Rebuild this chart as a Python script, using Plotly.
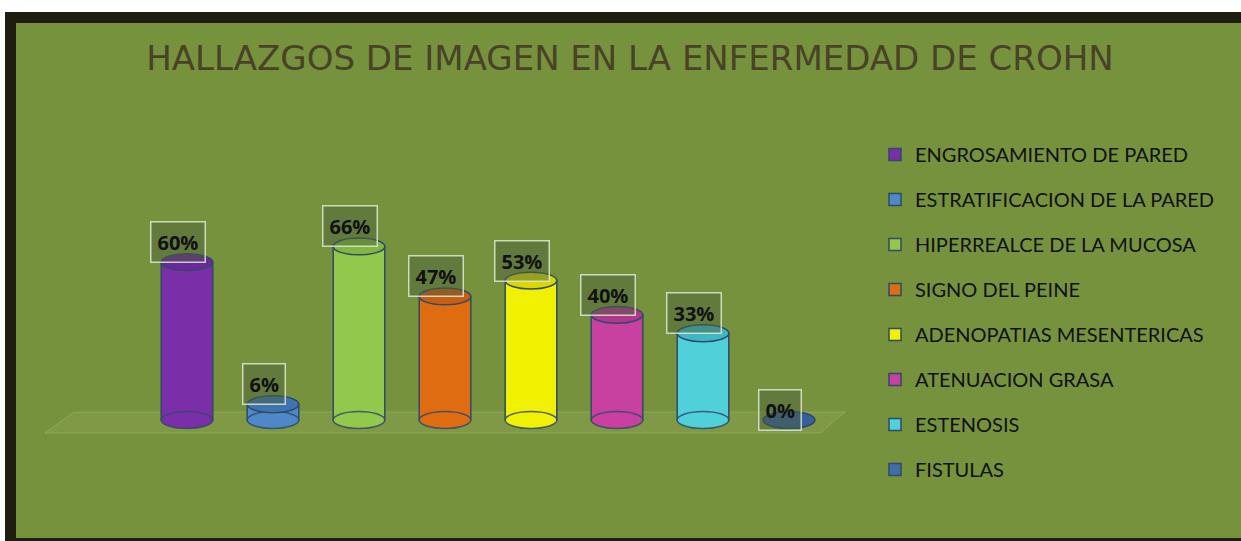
import plotly.graph_objects as go

categories = ["ENGROSAMIENTO DE PARED", "ESTRATIFICACION DE LA PARED", "HIPERREALCE DE LA MUCOSA",
              "SIGNO DEL PEINE", "ADENOPATIAS MESENTERICAS", "ATENUACION GRASA", "ESTENOSIS", "FISTULAS"]
values = [60, 6, 66, 47, 53, 40, 33, 0]
labels = ["60%", "6%", "66%", "47%", "53%", "40%", "33%", "0%"]
colors = ["#7A2FA8", "#4E88C8", "#92C84C", "#E06C12", "#F0F000", "#C840A0", "#50D0D8", "#3F6EA8"]
cap_colors = ["#6A2898", "#3F74B0", "#82B640", "#C85E10", "#D8D800", "#B0388C", "#40B8C4", "#35609A"]

W, H = 1241, 541
ML, MR, MT, MB = 45, 396, 120, 101
PW, PH = W - ML - MR, H - MT - MB


def px(x):
    return (x - ML) / PW


def py(y):
    return (H - MB - y) / PH


fig = go.Figure()
for i, (cat, v, c) in enumerate(zip(categories, values, colors)):
    fig.add_trace(go.Bar(
        x=[i], y=[v], name=cat, width=0.6, legendgroup=cat,
        marker=dict(color=c, line=dict(color="#2F4A6A", width=1.5)),
        hoverinfo="skip"))

shapes = [
    dict(type="rect", xref="paper", yref="paper", x0=px(5), x1=px(1300), y0=py(600), y1=py(12),
         fillcolor="#1F1D12", line=dict(width=0), layer="below"),
    dict(type="rect", xref="paper", yref="paper", x0=px(16), x1=px(1300), y0=py(538), y1=py(23),
         fillcolor="#76923C", line=dict(width=0), layer="below"),
    dict(type="path", xref="paper", yref="paper",
         path=f"M{px(74)},{py(412)} L{px(845)},{py(412)} L{px(820)},{py(433)} L{px(45)},{py(433)} Z",
         fillcolor="rgba(200,200,150,0.13)", line=dict(color="rgba(210,215,170,0.25)", width=1), layer="below"),
]
eh = 3.2
for i, (v, c, cc) in enumerate(zip(values, colors, cap_colors)):
    # bottom cap
    shapes.append(dict(type="circle", xref="x", yref="y", x0=i - 0.3, x1=i + 0.3, y0=-eh, y1=eh,
                       fillcolor=c, line=dict(color="rgba(47,74,106,0.85)", width=1.5), layer="above"))
    # top cap
    shapes.append(dict(type="circle", xref="x", yref="y", x0=i - 0.3, x1=i + 0.3, y0=v - eh, y1=v + eh,
                       fillcolor=cc, line=dict(color="#2F4A6A", width=1.5), layer="above"))

annotations = []
for i, (v, t) in enumerate(zip(values, labels)):
    annotations.append(dict(
        x=i - 0.1, y=v, xref="x", yref="y", text=f"<b>{t}</b>", showarrow=False,
        yshift=10 if v == 0 else 20, font=dict(family="Open Sans", size=20, color="#111111"),
        bgcolor="rgba(75,95,60,0.45)", bordercolor="rgba(225,232,215,0.85)", borderwidth=1.5, borderpad=6))

fig.update_layout(
    width=W, height=H,
    margin=dict(l=ML, r=MR, t=MT, b=MB),
    paper_bgcolor="white", plot_bgcolor="rgba(0,0,0,0)",
    barmode="overlay",
    title=dict(text="HALLAZGOS DE IMAGEN EN LA ENFERMEDAD DE CROHN", x=630 / W, xanchor="center",
               y=1 - 58 / H, yanchor="middle", xref="container", yref="container",
               font=dict(family="DejaVu Sans", size=34, color="#4A4228")),
    xaxis=dict(range=[-1.651, 7.651], visible=False, fixedrange=True),
    yaxis=dict(range=[-(440 - 420) / 2.63, (420 - 120) / 2.63], visible=False, fixedrange=True),
    legend=dict(xref="container", yref="container", x=875 / W, y=1 - 135 / H, xanchor="left", yanchor="top",
                font=dict(family="Lato", size=20, color="#111111"), bgcolor="rgba(0,0,0,0)",
                tracegroupgap=16, traceorder="grouped", itemclick=False, maxheight=540),
    shapes=shapes, annotations=annotations,
    showlegend=True,
)

fig.write_html("out.html", config={"displayModeBar": False},
               post_script="document.body.style.margin='0';document.body.style.overflow='hidden';")
